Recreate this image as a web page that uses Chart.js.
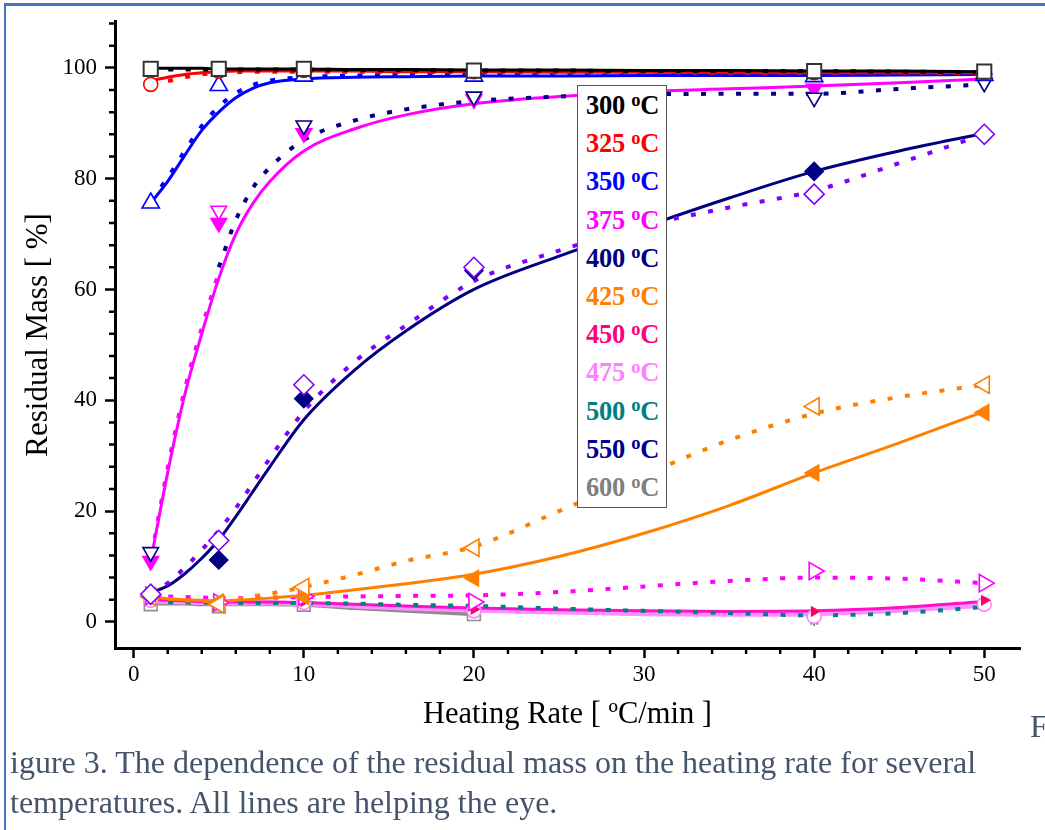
<!DOCTYPE html>
<html>
<head>
<meta charset="utf-8">
<script src="https://cdn.jsdelivr.net/npm/chart.js@4.4.0/dist/chart.umd.min.js"></script>
<style>
  body { margin: 0; width: 1045px; height: 830px; background: #fff; position: relative; overflow: hidden; font-family: "Liberation Serif", serif; }
  #residualChart { position: absolute; left: 0; top: 0; }
  .frameTop { position: absolute; left: 6px; top: 3px; width: 1039px; height: 3px; background: #4a72c2; }
  .frameLeft { position: absolute; left: 4px; top: 3px; width: 2px; height: 827px; background: #4a72c2; }
  .legendBox { position: absolute; left: 577px; top: 85px; width: 90px; height: 423px; border: 1px solid #555; background: #fff; box-sizing: border-box; }
  .legendBox div { height: 38.2px; line-height: 38.2px; font-weight: bold; font-size: 26.5px; padding-left: 8px; white-space: nowrap; letter-spacing: -0.3px; }
  sup { font-size: 0.7em; position: relative; top: -0.45em; vertical-align: baseline; line-height: 0; }
  .caption { position: absolute; left: 10px; top: 742px; color: #44546a; font-size: 32px; line-height: 40px; white-space: nowrap; }
  .capF { position: absolute; left: 1030px; top: 708px; color: #44546a; font-size: 32px; }
</style>
</head>
<body>
<canvas id="residualChart" width="1045" height="830"></canvas>
<div class="frameTop"></div>
<div class="frameLeft"></div>
<div class="legendBox" id="legendBox"></div>
<div class="capF">F</div>
<div class="caption">igure 3. The dependence of the residual mass on the heating rate for several<br>temperatures. All lines are helping the eye.</div>
<script>
  // measured heating rates
  const rates = [1, 5, 10, 20, 40, 50];
  const fitRates = [1, 2, 3, 4, 5, 6, 7, 8, 10, 13, 16, 20, 25, 30, 35, 40, 45, 50];

  const temps = ['300', '325', '350', '375', '400', '425', '450', '475', '500', '550', '600'];
  const tempColors = ['#000000', '#ff0000', '#0000ff', '#ff00ff', '#000080', '#ff8000', '#ff0080', '#ff80ff', '#008080', '#000090', '#808080'];

  // residual mass points [%]
  const mass300 = [99.8, 99.8, 99.8, 99.5, 99.4, 99.3];
  const mass325 = [97.0, 99.4, 99.5, 99.3, 99.1, 99.1];
  const mass350 = [75.6, 96.8, 98.5, 98.5, 98.4, 98.6];
  const mass375a = [11.0, 72.0, 88.2, 94.3, 96.2, 98.0];
  const mass375b = [12.6, 74.2, 89.6, 94.8, 94.6, 97.3];
  const mass400a = [5.0, 11.2, 40.3, 63.4, 81.3, 88.0];
  const mass400b = [5.0, 14.7, 42.8, 64.0, 77.2, 88.0];
  const mass425a = [4.4, 3.6, 4.6, 7.9, 26.9, 37.8];
  const mass425b = [4.6, 3.2, 6.3, 13.4, 38.9, 42.8];
  const mass450a = [4.2, 3.4, 3.7, 2.3, 1.9, 3.9];
  const mass450b = [4.7, 3.5, 4.6, 3.6, 9.2, 7.0];
  const mass475 = [3.9, 3.2, 3.5, 2.0, 1.0, 3.2];
  const mass500 = [3.6, 3.0, 3.4, 2.4, 0.2, 2.9];
  const mass600 = [3.2, 2.8, 3.1, 1.4, null, null];

  // guide curves (solid = fit of filled symbols, dotted = open symbols)
  const fit300 = [99.9, 99.9, 99.9, 99.9, 99.8, 99.8, 99.8, 99.8, 99.8, 99.7, 99.7, 99.6, 99.6, 99.5, 99.5, 99.4, 99.4, 99.3];
  const dot300 = [99.7, 99.7, 99.7, 99.7, 99.7, 99.7, 99.7, 99.7, 99.7, 99.6, 99.6, 99.5, 99.5, 99.4, 99.4, 99.4, 99.3, 99.2];
  const fit325 = [97.7, 98.3, 98.8, 99.1, 99.3, 99.4, 99.4, 99.4, 99.4, 99.4, 99.3, 99.3, 99.2, 99.2, 99.1, 99.1, 99.1, 99.1];
  const dot325 = [97.2, 97.6, 98.3, 98.8, 99.1, 99.2, 99.3, 99.3, 99.3, 99.3, 99.3, 99.2, 99.2, 99.2, 99.1, 99.1, 99.1, 99.0];
  const fit350 = [75.6, 79.5, 84.2, 88.7, 92.0, 94.6, 96.3, 97.3, 98.0, 98.3, 98.4, 98.5, 98.5, 98.6, 98.6, 98.6, 98.7, 98.8];
  const dot350 = [76.0, 80.2, 85.0, 89.5, 93.0, 95.4, 96.9, 97.7, 98.3, 98.6, 98.7, 98.8, 98.8, 98.8, 98.8, 98.9, 98.9, 99.0];
  const fit375 = [11.0, 27.0, 41.0, 52.0, 62.0, 70.0, 75.5, 79.5, 85.0, 89.0, 91.5, 93.5, 94.8, 95.7, 96.2, 96.7, 97.3, 98.0];
  const dot375 = [null, null, null, null, 64.0, 72.5, 78.3, 82.0, 87.0, 90.5, 92.5, 94.0, 94.8, 95.2, 95.3, 95.3, 96.2, 97.0];
  const dot375low = [12.0, 28.5, 42.5, 53.5, 63.5, null, null, null, null, null, null, null, null, null, null, null, null, null];
  const fit400 = [5.3, 6.5, 8.7, 11.5, 14.8, 19.0, 23.5, 28.0, 36.5, 45.5, 52.5, 60.0, 66.0, 71.3, 76.5, 81.3, 85.0, 88.2];
  const dot400 = [5.0, 7.0, 9.8, 13.0, 16.5, 20.5, 25.0, 29.5, 38.0, 47.0, 53.5, 61.5, 67.0, 71.5, 74.8, 77.8, 82.8, 88.0];
  const fit425 = [4.5, 4.2, 4.0, 3.9, 3.8, 3.9, 4.1, 4.3, 4.8, 5.8, 6.9, 8.6, 11.8, 16.0, 21.0, 26.9, 32.3, 38.0];
  const dot425 = [4.6, 4.2, 3.9, 3.8, 3.8, 4.1, 4.6, 5.1, 6.3, 8.5, 11.0, 13.6, 20.0, 26.5, 32.8, 37.6, 40.6, 42.8];
  const fit450 = [4.0, 3.9, 3.8, 3.7, 3.6, 3.6, 3.6, 3.6, 3.5, 3.2, 2.9, 2.5, 2.2, 2.0, 1.9, 2.0, 2.6, 3.7];
  const dot450 = [4.8, 4.6, 4.5, 4.4, 4.3, 4.3, 4.3, 4.4, 4.5, 4.6, 4.7, 4.8, 5.4, 6.4, 7.4, 8.0, 7.8, 7.0];
  const fit475 = [3.8, 3.7, 3.6, 3.5, 3.4, 3.4, 3.4, 3.4, 3.3, 2.9, 2.5, 2.1, 1.8, 1.5, 1.4, 1.5, 2.1, 3.0];
  const dot500 = [3.7, 3.6, 3.5, 3.5, 3.4, 3.4, 3.4, 3.4, 3.4, 3.3, 3.1, 2.9, 2.4, 2.0, 1.6, 1.2, 1.6, 2.7];
  const fit550 = [3.7, 3.6, 3.5, 3.5, 3.5, 3.5, 3.5, 3.5, 3.4, 2.9, 2.4, 1.9, null, null, null, null, null, null];
  const fit600 = [3.5, 3.4, 3.4, 3.3, 3.3, 3.3, 3.3, 3.3, 3.2, 2.6, 2.1, 1.5, null, null, null, null, null, null];

  const serif = 'Liberation Serif';

  // legend
  const legendBox = document.getElementById('legendBox');
  temps.forEach((t, i) => {
    const row = document.createElement('div');
    row.style.color = tempColors[i];
    row.innerHTML = t + ' <sup>o</sup>C';
    legendBox.appendChild(row);
  });

  function pts(xs, ys) {
    return xs.map((x, i) => ({ x: x, y: ys[i] }));
  }

  function markers(ys, style, color, opts) {
    return Object.assign({
      data: pts(rates, ys),
      showLine: false,
      pointStyle: style,
      pointRadius: 9,
      pointBorderColor: color,
      pointBackgroundColor: '#ffffff',
      pointBorderWidth: 1.6,
      pointRotation: 0
    }, opts || {});
  }

  function curve(ys, color, width, dotted) {
    return {
      data: pts(fitRates, ys),
      borderColor: color,
      borderWidth: width,
      borderDash: dotted ? [5, 12.5] : [],
      borderCapStyle: 'butt',
      pointRadius: 0,
      cubicInterpolationMode: 'monotone',
      spanGaps: false
    };
  }

  const datasets = [
    // symbols (drawn on top)
    markers(mass300, 'rect', '#333333', { pointRadius: 10, pointBorderWidth: 2 }),
    markers(mass325, 'circle', '#ff0000', { pointRadius: 7 }),
    markers(mass350, 'triangle', '#0000ff', { pointRadius: 10 }),
    markers(mass375b, 'triangle', ['#000080', '#ff00ff', '#000080', '#000080', '#000080', '#000080'], { pointRotation: 180 }),
    markers(mass375a, 'triangle', '#ff00ff', { pointRotation: 180, pointBackgroundColor: '#ff00ff' }),
    markers(mass400b, 'rectRot', '#8000ff', { pointRadius: 10 }),
    markers(mass400a, 'rectRot', '#000080', { pointBackgroundColor: '#000080' }),
    markers(mass425b, 'triangle', '#ff8000', { pointRotation: 270, pointRadius: 10 }),
    markers(mass425a, 'triangle', '#ff8000', { pointRotation: 270, pointBackgroundColor: '#ff8000' }),
    markers(mass450b, 'triangle', '#ff00ff', { pointRotation: 90, pointRadius: 10 }),
    markers(mass450a, 'triangle', '#ff0060', { pointRotation: 90, pointRadius: 5, pointBackgroundColor: '#ff0060' }),
    markers(mass475, 'circle', '#ff80ff', { pointRadius: 7 }),
    markers(mass500, 'star', '#008000', { pointRadius: 5 }),
    markers(mass600, 'rect', '#909090', { pointRadius: 9 }),
    // guide curves
    curve(dot300, '#000000', 4, true),
    curve(fit300, '#000000', 3, false),
    curve(dot325, '#ff0000', 4, true),
    curve(fit325, '#ff0000', 3, false),
    curve(dot350, '#0000ff', 4, true),
    curve(fit350, '#0000ff', 3, false),
    curve(dot375, '#000080', 4, true),
    curve(dot375low, '#ff00ff', 2.5, true),
    curve(fit375, '#ff00ff', 3, false),
    curve(dot400, '#8000ff', 4, true),
    curve(fit400, '#000080', 3, false),
    curve(dot425, '#ff8000', 4, true),
    curve(fit425, '#ff8000', 3, false),
    curve(dot500, '#008080', 4, true),
    curve(dot450, '#ff00ff', 4, true),
    curve(fit450, '#ff10c8', 3, false),
    curve(fit475, '#ff90ff', 5, false),
    curve(fit550, '#000090', 2, false),
    curve(fit600, '#8c8c8c', 5, false)
  ];

  const minorTicks = {
    id: 'minorTicks',
    afterDraw(chart) {
      const { ctx, chartArea, scales } = chart;
      ctx.save();
      ctx.strokeStyle = '#000';
      ctx.lineWidth = 2.5;
      ctx.beginPath();
      for (let v = 2; v < 50; v += 2) {
        if (v % 10 === 0) continue;
        const px = scales.x.getPixelForValue(v);
        ctx.moveTo(px, chartArea.bottom);
        ctx.lineTo(px, chartArea.bottom + 6);
      }
      for (let v = 4; v <= 108; v += 4) {
        if (v % 20 === 0) continue;
        const py = scales.y.getPixelForValue(v);
        ctx.moveTo(chartArea.left, py);
        ctx.lineTo(chartArea.left - 6, py);
      }
      ctx.stroke();
      ctx.restore();
    }
  };

  const residualChart = new Chart(document.getElementById('residualChart'), {
    type: 'line',
    data: { datasets: datasets },
    plugins: [minorTicks],
    options: {
      responsive: false,
      animation: false,
      layout: { padding: { top: 18, right: 25, bottom: 97, left: 0 } },
      plugins: { legend: { display: false }, tooltip: { enabled: false } },
      scales: {
        x: {
          type: 'linear',
          min: -1.1,
          max: 52.1,
          ticks: { stepSize: 10, includeBounds: false, color: '#000', padding: 3, font: { family: serif, size: 23 } },
          grid: { drawOnChartArea: false, tickLength: 10, tickWidth: 2.5, tickColor: '#000' },
          border: { color: '#000', width: 3 },
          title: { display: true, text: 'Heating Rate [ ºC/min ]', color: '#000', padding: 0, font: { family: serif, size: 30.5 } },
          afterFit: (s) => { s.height = 85; }
        },
        y: {
          type: 'linear',
          min: -4.7,
          max: 108.3,
          ticks: { stepSize: 20, includeBounds: false, color: '#000', padding: 8, font: { family: serif, size: 23 } },
          grid: { drawOnChartArea: false, tickLength: 10, tickWidth: 2.5, tickColor: '#000' },
          border: { color: '#000', width: 3 },
          title: { display: true, text: 'Residual Mass [ %]', color: '#000', padding: { top: 20 }, font: { family: serif, size: 31 } },
          afterFit: (s) => { s.width = 115; }
        }
      }
    }
  });
</script>
</body>
</html>
